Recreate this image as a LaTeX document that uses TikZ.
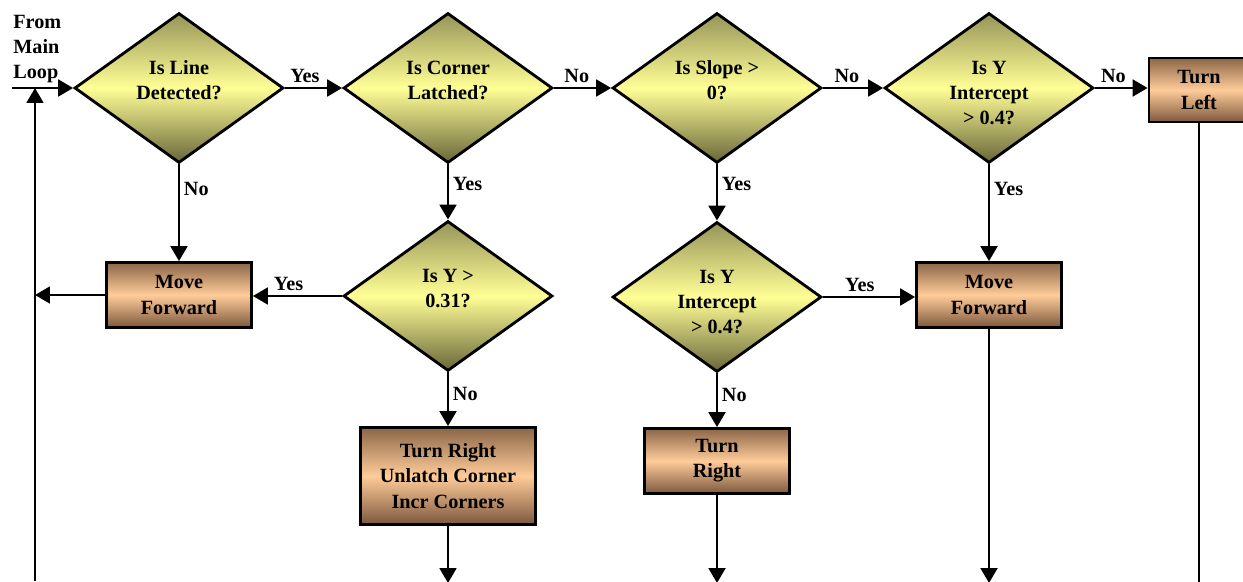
\documentclass[tikz,border=0pt]{standalone}
\usepackage{fontspec}
\setmainfont{Liberation Serif}
\usetikzlibrary{arrows.meta}
\usetikzlibrary{shapes.geometric}
\definecolor{qtop}{RGB}{150,148,88}
\definecolor{qyel}{RGB}{255,255,150}
\definecolor{qbot}{RGB}{105,102,58}
\definecolor{qbrtop}{RGB}{140,102,72}
\definecolor{qpeach}{RGB}{255,204,153}
\definecolor{qbrbot}{RGB}{125,88,62}

\tikzset{
  txt/.style={font=\bfseries\fontsize{11.5}{14.3}\selectfont},
  decide/.style={diamond, draw=black, line width=1.6pt, txt, align=center,
    inner sep=0pt, minimum width=4.18cm, minimum height=3cm,
    text height=16pt, text depth=3pt,
    top color=qtop, bottom color=qbot, middle color=qyel},
  threeline/.style={text height=44.6pt, inner ysep=-14pt},
  act/.style={rectangle, draw=black, line width=1.6pt, txt, align=center,
    minimum width=2.9cm, minimum height=1.3cm,
    top color=qbrtop, bottom color=qbrbot, middle color=qpeach},
  go/.style={line width=1.6pt, -{Triangle[length=8.5pt,width=9.5pt]}},
  wire/.style={line width=1.6pt},
  lab/.style={txt, inner sep=2pt}
}

\begin{document}
\begin{tikzpicture}[x=0.02cm, y=-0.02cm]
\useasboundingbox (0,0) rectangle (1243,581);
\def\yb{583}%bottom edge of the sheet

% top row
\node[decide] (line) at (179,88) {Is Line\\Detected?};
\node[decide] (corner) at (448,88) {Is Corner\\Latched?};
\node[decide] (slope) at (717,88) {Is Slope >\\0?};
\node[decide, threeline] (icpt) at (989,88) {Is Y\\Intercept\\> 0.4?};
\node[act, minimum width=2cm, minimum height=1.28cm] (left) at (1199,90) {Turn\\Left};

% second row
\node[act] (fwdA) at (179,295) {Move\\Forward};
\node[decide] (ylim) at (448,296) {Is Y >\\0.31?};
\node[decide, threeline] (icptB) at (717,297) {Is Y\\Intercept\\> 0.4?};
\node[act] (fwdB) at (989,295) {Move\\Forward};

% third row
\node[act, minimum width=3.5cm, minimum height=1.94cm] (unlatch) at (448,476) {Turn Right\\Unlatch Corner\\Incr Corners};
\node[act] (right) at (717,461) {Turn\\Right};

\node[txt, align=left, anchor=south west, inner sep=0pt] (from) at (13,83) {From\\Main\\Loop};
\coordinate (main) at (12,88);
\coordinate (ret) at (35,581);

% connectors
\draw[go] (main) -- (line.west);
\draw[go] (ret) -- (ret |- line.west);
\draw[go] (line.east) -- node[lab, above, pos=0.35] {Yes} (corner.west);
\draw[go] (corner.east) -- node[lab, above, pos=0.4] {No} (slope.west);
\draw[go] (slope.east) -- node[lab, above, pos=0.4] {No} (icpt.west);
\draw[go] (icpt.east) -- node[lab, above, pos=0.35] {No} (icpt.east -| left.west);

\draw[go] (line.south) -- node[lab, right, pos=0.25] {No} (fwdA.north);
\draw[go] (corner.south) -- node[lab, right, pos=0.35] {Yes} (ylim.north);
\draw[go] (slope.south) -- node[lab, right, pos=0.35] {Yes} (icptB.north);
\draw[go] (icpt.south) -- node[lab, right, pos=0.25] {Yes} (fwdB.north);

\draw[go] (ylim.west) -- node[lab, above, pos=0.6] {Yes} (ylim.west -| fwdA.east);
\draw[go] (fwdA.west) -- (fwdA.west -| ret);
\draw[go] (icptB.east) -- node[lab, above, pos=0.4] {Yes} (icptB.east -| fwdB.west);
\draw[go] (ylim.south) -- node[lab, right, pos=0.4] {No} (unlatch.north);
\draw[go] (icptB.south) -- node[lab, right, pos=0.4] {No} (right.north);

\draw[go] (unlatch.south) -- (unlatch.south |- 0,\yb);
\draw[go] (right.south) -- (right.south |- 0,\yb);
\draw[go] (fwdB.south) -- (fwdB.south |- 0,\yb);
\draw[wire] (left.south) -- (left.south |- 0,\yb);
\end{tikzpicture}
\end{document}
